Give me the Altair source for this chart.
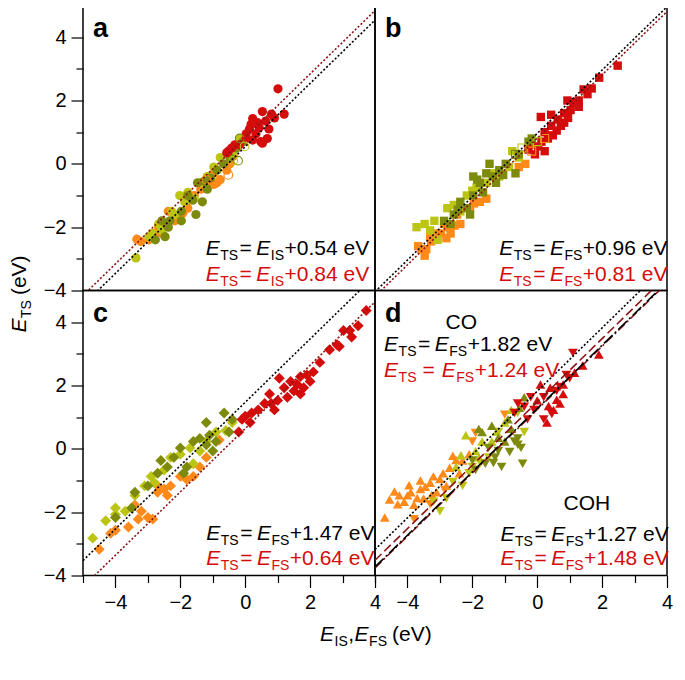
import altair as alt
import pandas as pd

FONT = "Liberation Sans"
TICK_FS = 20
BIG = 21
SUB = 14

COL = {"red": "#d40c0c", "orange": "#ff8a1a", "yellow": "#bcc414", "olive": "#7e8a0c"}
LINE_RED = "#8c1414"

X_TICKS = [-5, -4.5, -4, -3.5, -3, -2.5, -2, -1.5, -1, -0.5, 0, 0.5, 1, 1.5, 2, 2.5, 3, 3.5, 4]
Y_TICKS = [-4, -3.5, -3, -2.5, -2, -1.5, -1, -0.5, 0, 0.5, 1, 1.5, 2, 2.5, 3, 3.5, 4, 4.5]
X_RANGE = [-5, 4]

# ---------------- panel a (circles, E_TS vs E_IS) ----------------
a_red = [(1.01, 2.37), (1.2, 1.57), (0.53, 1.65), (0.81, 1.57), (0.23, 1.43), (0.18, 1.25), (0.43, 1.15),
         (0.33, 0.95), (0.03, 0.95), (0.73, 1.1), (0.68, 0.8), (0.48, 0.7), (0.23, 0.75), (0.03, 0.8),
         (-0.17, 0.6), (-0.32, 0.6), (-0.42, 0.5), (-0.52, 0.4), (-0.57, 0.35), (0.53, 0.65), (0.63, 1.35),
         (0.38, 1.3), (0.9, 1.45), (0.13, 1.1)]
a_orange = [(-3.34, -2.38), (-3.22, -2.45), (-2.97, -2.4), (-2.67, -2.0), (-2.57, -2.2), (-2.47, -1.9),
            (-2.17, -1.8), (-2.02, -1.6), (-1.77, -1.4), (-1.57, -1.0), (-1.37, -0.8), (-1.17, -0.7),
            (-0.97, -0.65), (-0.87, -0.6), (-0.77, -0.5), (-0.97, -0.3), (-0.57, -0.2), (-0.47, 0.0),
            (-0.37, 0.25), (-2.37, -1.5), (-2.82, -2.2), (-1.92, -1.55)]
a_yellow = [(-3.37, -2.97), (-2.87, -2.2), (-2.67, -1.9), (-2.27, -1.5), (-2.02, -1.0), (-1.87, -1.2),
            (-1.57, -1.1), (-1.17, -0.4), (-0.77, 0.2), (-0.37, 0.4), (-0.17, 0.8), (-2.57, -2.1),
            (-1.37, -0.6), (-0.97, -0.1), (-0.57, 0.3), (-2.17, -1.6), (-2.97, -2.3), (-1.77, -0.9)]
a_olive = [(-2.77, -2.4), (-2.32, -1.8), (-1.97, -1.5), (-1.52, -1.6), (-1.47, -0.6), (-1.32, -1.2),
           (-1.07, -0.45), (-0.87, -0.2), (-0.67, 0.0), (-0.47, 0.2), (-0.27, 0.5), (-0.07, 0.7),
           (-1.77, -1.0), (-2.37, -2.0), (-2.57, -1.8), (-1.17, -0.8), (-1.62, -1.15), (-1.97, -1.8),
           (-1.27, -0.55), (-2.47, -2.3)]
a_open = [(-0.52, -0.35, "orange"), (-0.22, 0.1, "olive"), (-0.37, 0.1, "yellow"), (-0.17, 0.8, "olive"),
          (-0.02, 0.55, "yellow"), (-1.2, -0.5, "orange")]
a_fit = [0.54, 0.84]

# ---------------- panel b (squares, E_TS vs E_FS) ----------------
b_red = [(2.48, 3.1), (1.91, 2.72), (1.68, 2.38), (1.43, 2.35), (1.28, 2.0), (0.93, 2.0), (1.03, 1.7),
         (1.28, 1.8), (0.83, 1.6), (0.63, 1.4), (0.73, 1.2), (0.43, 1.2), (0.11, 1.48), (0.23, 1.0),
         (0.48, 0.9), (0.13, 0.7), (0.23, 0.4), (-0.07, 0.3), (-0.27, 0.45), (0.03, 0.55), (0.43, 1.55),
         (0.83, 1.3), (1.13, 1.95), (0.33, 0.8), (0.6, 1.05), (1.55, 2.2), (0.95, 1.45)]
b_orange = [(-3.47, -2.9), (-3.42, -2.7), (-3.27, -2.45), (-2.97, -2.2), (-2.72, -2.0), (-2.67, -2.2),
            (-2.87, -1.9), (-2.37, -1.9), (-2.47, -1.6), (-2.07, -1.4), (-1.77, -1.2), (-1.57, -1.1),
            (-3.17, -2.2), (-3.57, -2.7), (-3.67, -2.6), (-0.57, -0.1), (-0.37, 0.0), (-3.3, -2.3),
            (-2.8, -2.35), (-2.55, -1.95), (-1.95, -1.25)]
b_yellow = [(-3.72, -2.0), (-3.47, -1.9), (-3.17, -1.8), (-2.77, -1.4), (-2.57, -1.3), (-2.17, -1.0),
            (-1.87, -0.75), (-1.57, -0.6), (-1.17, -0.4), (-0.87, -0.1), (-0.57, 0.2), (-0.17, 0.6),
            (-3.07, -2.4), (-2.37, -1.5), (-0.77, 0.4), (-3.3, -2.1), (-2.0, -0.85), (-1.35, -0.3)]
b_olive = [(-2.87, -1.8), (-2.57, -1.6), (-2.37, -1.2), (-2.17, -1.4), (-1.97, -1.0), (-1.77, -0.6),
           (-1.57, -0.3), (-1.37, -0.4), (-1.17, -0.2), (-0.97, 0.0), (-0.67, -0.3), (-0.57, 0.3),
           (-0.27, 0.7), (-2.07, -1.6), (-1.67, -0.9), (-1.27, -0.6), (-1.97, -0.4), (-2.67, -1.9),
           (-1.47, 0.0), (-0.17, 0.8), (-1.85, -0.5), (-1.05, -0.35), (-2.45, -1.45)]
b_open = [(-0.17, 0.4, "orange"), (0.23, 0.8, "orange"), (-0.47, 0.5, "yellow"), (-0.67, 0.3, "olive"),
          (0.0, 0.7, "yellow")]
b_fit = [0.96, 0.81]

# ---------------- panel c (diamonds) ----------------
c_red = [(2.6, 3.13), (2.9, 3.23), (2.3, 2.73), (2.1, 2.43), (1.9, 2.33), (1.7, 2.28), (2.0, 2.13),
         (1.6, 2.03), (1.4, 2.13), (1.8, 1.93), (1.5, 1.83), (1.2, 1.93), (1.05, 2.23), (1.3, 1.63),
         (1.0, 1.53), (0.75, 1.73), (0.8, 1.43), (0.9, 1.23), (0.6, 1.43), (0.4, 1.23), (0.2, 1.13),
         (0.0, 1.03), (-0.1, 0.93), (0.15, 0.83), (-0.2, 0.53), (1.7, 1.73), (3.48, 3.89), (3.73, 4.37),
         (3.22, 3.74), (3.03, 3.74), (3.28, 3.53), (2.83, 3.29)]
c_orange = [(-4.5, -3.17), (-4.15, -2.67), (-4.0, -2.57), (-3.6, -2.47), (-3.3, -2.22), (-3.0, -2.17),
            (-2.85, -2.22), (-3.2, -1.97), (-3.4, -1.77), (-2.7, -1.37), (-2.5, -1.27), (-2.4, -1.47),
            (-2.3, -1.17), (-2.0, -0.87), (-1.8, -0.97), (-1.6, -0.87), (-1.4, -0.57), (-1.2, -0.27),
            (-0.8, 0.28), (-2.7, -1.17)]
c_yellow = [(-4.7, -2.82), (-4.3, -2.27), (-4.0, -2.07), (-3.7, -1.97), (-3.4, -1.47), (-3.1, -1.17),
            (-2.9, -0.87), (-2.5, -0.67), (-2.3, -0.27), (-2.0, -0.17), (-1.7, 0.03), (-1.4, -0.07),
            (-1.2, 0.23), (-0.9, 0.53), (-0.6, 0.58), (-0.4, 0.83), (-4.0, -1.87), (-2.8, -1.07),
            (-1.6, -0.47)]
c_olive = [(-4.0, -2.17), (-3.5, -1.87), (-3.4, -1.37), (-3.0, -1.17), (-2.6, -0.37), (-2.4, -0.57),
           (-2.2, -0.27), (-2.0, 0.03), (-1.8, -0.57), (-1.6, 0.23), (-1.4, 0.33), (-1.2, 0.13),
           (-1.0, -0.07), (-1.1, 0.43), (-0.9, 0.23), (-0.65, 1.13), (-0.4, 0.93), (-0.5, 0.53),
           (-1.2, 0.83), (-2.7, -0.77), (-1.9, -0.77)]
c_fit = [1.47, 0.64]

# ---------------- panel d (triangles: up = CO, down = COH) ----------------
d_red_up = [(1.9, 2.98), (1.4, 2.63), (0.8, 2.03), (0.4, 1.93), (0.7, 1.43), (0.0, 1.53), (0.5, 1.23),
            (0.8, 1.73), (0.1, 2.03), (0.3, 0.83), (0.6, 1.55), (0.35, 1.35), (1.15, 2.4)]
d_red_down = [(1.1, 3.03), (1.0, 2.23), (0.6, 1.83), (0.2, 1.63), (-0.2, 1.63), (-0.6, 1.43), (-0.7, 1.13),
              (0.2, 0.93), (-0.1, 1.23), (-0.4, 1.33), (0.9, 2.33), (-0.3, 0.93), (0.45, 1.1), (0.7, 1.95)]
d_orange_up = [(-4.7, -2.17), (-4.25, -1.47), (-4.1, -1.67), (-3.9, -1.37), (-3.8, -1.77), (-3.6, -1.27),
               (-3.5, -1.57), (-3.3, -1.07), (-3.1, -1.37), (-2.9, -0.77), (-2.8, -1.17), (-2.6, -0.22),
               (-2.3, -0.37), (-2.1, -0.17), (-3.2, -0.87), (-4.0, -1.47), (-2.4, -0.77), (-4.4, -1.35),
               (-4.3, -1.75), (-3.95, -1.15), (-3.7, -1.55), (-3.45, -1.2), (-3.25, -1.45), (-3.0, -0.95),
               (-2.7, -0.6), (-2.5, -0.35), (-4.55, -1.6), (-3.6, -1.0)]
d_orange_down = [(-3.8, -2.22), (-1.0, 1.08), (-2.0, 0.23), (-1.9, 0.5), (-3.3, -1.75), (-2.85, -1.3)]
d_yellow_up = [(-2.5, -0.57), (-2.2, 0.43), (-1.9, -0.07), (-1.7, 0.23), (-1.4, 0.23), (-1.0, 0.83),
               (-0.8, 1.23), (-1.8, -0.27), (-2.35, -0.2), (-1.25, 0.55)]
d_yellow_down = [(-3.2, -1.67), (-2.8, -1.57), (-2.3, -1.17), (-2.0, -0.57), (-1.5, -0.27), (-1.2, 0.53),
                 (-0.6, 1.13), (-0.4, 0.53), (-3.0, -1.97), (-2.1, -0.77), (-2.6, -1.05), (-1.75, -0.45)]
d_olive_up = [(-1.7, 0.53), (-1.0, 0.23), (-0.8, 0.63), (-0.4, 1.63), (-0.9, 0.93), (-1.4, 0.73), (-1.8, 0.63),
              (-1.2, 0.35), (-0.55, 1.3)]
d_olive_down = [(-1.5, 0.03), (-1.3, -0.27), (-1.1, -0.57), (-0.6, 0.33), (-0.5, 0.03), (-0.45, -0.47),
                (-0.6, 0.13), (-1.2, -0.07), (-1.6, -0.47), (-2.0, -0.37), (-1.9, -0.67), (-0.7, 0.23),
                (-1.35, -0.45), (-0.85, -0.1)]
d_fit = [1.82, 1.48, 1.24, 1.27]

W, H = 292, 285
XS = alt.Scale(domain=[-5, 4], nice=False, zero=False)
YS = alt.Scale(domain=[-4, 5], nice=False, zero=False)

CW = {"E": 667, "T": 611, "S": 667, "I": 278, "F": 611, "=": 584, "+": 584, ".": 278, " ": 278,
      "e": 556, "V": 667, "(": 333, ")": 333, ",": 278, "C": 722, "O": 778, "H": 722}


def tw(s, size):
    return sum(CW.get(ch, 556) for ch in s) * size / 1000.0


TS_COND = {"condition": {"test": "datum.value % 2 === 0", "value": 12}, "value": 7}
PANEL = {"x": False, "y": False}


def make_axis(values):
    return alt.Axis(values=values, format="d", labelExpr="datum.value % 2 === 0 ? datum.label : ''",
                    tickSize=TS_COND, tickColor="black", tickWidth=1.2, domain=False, grid=False,
                    labelFont=FONT, labelFontSize=TICK_FS, labelColor="black", labelPadding=5,
                    labelFlush=False, labelOverlap=False, title=None)


def enc():
    return dict(x=alt.X("x:Q", scale=XS, axis=make_axis(X_TICKS) if PANEL["x"] else None),
                y=alt.Y("y:Q", scale=YS, axis=make_axis(Y_TICKS) if PANEL["y"] else None))


def points(pts, colkey, shape, size):
    df = pd.DataFrame(pts, columns=["x", "y"])
    return alt.Chart(df).mark_point(shape=shape, size=size, filled=True, opacity=1,
                                    color=COL[colkey]).encode(**enc())


def open_points(pts, shape, size):
    df = pd.DataFrame(pts, columns=["x", "y", "c"])
    return alt.Chart(df).mark_point(shape=shape, size=size, filled=False, opacity=1, strokeWidth=1.1).encode(
        **enc(), color=alt.Color("c:N", scale=alt.Scale(domain=list(COL.keys()), range=list(COL.values())),
                                 legend=None))


def fit_line(b, color, dash):
    df = pd.DataFrame({"x": X_RANGE})
    return alt.Chart(df).transform_calculate(y="datum.x + %f" % b).mark_line(
        clip=True, color=color, strokeDash=dash, strokeWidth=1.6).encode(**enc())


def one(x, y):
    return alt.Chart(pd.DataFrame({"x": [x], "y": [y]}))


def equation(x, y, s1, s2, rest, color, pre=1.5, post=4.5):
    pieces = [("E", BIG, "italic", 0, 0.5), (s1, SUB, "normal", 5, pre), ("=", BIG, "normal", 0, post),
              ("E", BIG, "italic", 0, 0.5), (s2, SUB, "normal", 5, 0.5), (rest, BIG, "normal", 0, 0)]
    layers = []
    dx = 0.0
    for s, fs, st, dy, gap in pieces:
        layers.append(one(x, y).mark_text(text=s, font=FONT, fontSize=fs, fontStyle=st, color=color,
                                          align="left", baseline="alphabetic", dx=dx, dy=dy).encode(**enc()))
        dx += tw(s, fs) + gap
    return layers


def label(letter):
    return alt.Chart(pd.DataFrame({"t": [letter]})).mark_text(
        font=FONT, fontSize=27, fontWeight="bold", align="left", baseline="alphabetic", color="black"
    ).encode(x=alt.value(10), y=alt.value(31), text="t:N")


def plain_text(x, y, s):
    return one(x, y).mark_text(text=s, font=FONT, fontSize=BIG, align="center", baseline="alphabetic",
                               color="black").encode(**enc())


def composite_px(px, py, pieces, angle=0):
    layers = []
    dx = 0.0
    for s, fs, st, dy, gap in pieces:
        layers.append(alt.Chart(pd.DataFrame({"t": [s]})).mark_text(
            font=FONT, fontSize=fs, fontStyle=st, color="black", align="left", baseline="alphabetic",
            dx=dx, dy=dy, angle=angle).encode(x=alt.value(px), y=alt.value(py), text="t:N"))
        dx += tw(s, fs) + gap
    return layers


DOT = [2, 2]

# panel a
PANEL.update(x=False, y=True)
pa = alt.layer(
    points(a_orange, "orange", "circle", 85),
    points(a_yellow, "yellow", "circle", 85),
    points(a_olive, "olive", "circle", 85),
    points(a_red, "red", "circle", 85),
    open_points(a_open, "circle", 75),
    fit_line(a_fit[1], LINE_RED, DOT),
    fit_line(a_fit[0], "black", DOT),
    *equation(-1.22, -2.89, "TS", "IS", "+0.54 eV", "black"),
    *equation(-1.22, -3.70, "TS", "IS", "+0.84 eV", COL["red"]),
    label("a"),
).properties(width=W, height=H)

# panel b
PANEL.update(x=False, y=False)
pb = alt.layer(
    points(b_orange, "orange", "square", 70),
    points(b_yellow, "yellow", "square", 70),
    points(b_olive, "olive", "square", 70),
    points(b_red, "red", "square", 70),
    open_points(b_open, "square", 64),
    fit_line(b_fit[1], LINE_RED, DOT),
    fit_line(b_fit[0], "black", DOT),
    *equation(-1.17, -2.89, "TS", "FS", "+0.96 eV", "black"),
    *equation(-1.17, -3.70, "TS", "FS", "+0.81 eV", COL["red"]),
    label("b"),
).properties(width=W, height=H)

# panel c
PANEL.update(x=True, y=True)
ytitle = composite_px(-57, 42, [("E", BIG, "italic", 0, 0.5), ("TS", SUB, "normal", 5, 5),
                                ("(eV)", BIG, "normal", 0, 0)], angle=270)
xtitle = composite_px(237, H + 65, [("E", BIG, "italic", 0, 0.5), ("IS", SUB, "normal", 5, 0.5),
                                    (",", BIG, "normal", 0, 0.5), ("E", BIG, "italic", 0, 0.5),
                                    ("FS", SUB, "normal", 5, 5), ("(eV)", BIG, "normal", 0, 0)])
pc = alt.layer(
    points(c_orange, "orange", "diamond", 120),
    points(c_yellow, "yellow", "diamond", 120),
    points(c_olive, "olive", "diamond", 120),
    points(c_red, "red", "diamond", 120),
    fit_line(c_fit[1], LINE_RED, DOT),
    fit_line(c_fit[0], "black", DOT),
    *equation(-1.2, -2.89, "TS", "FS", "+1.47 eV", "black"),
    *equation(-1.2, -3.67, "TS", "FS", "+0.64 eV", COL["red"]),
    label("c"),
    *ytitle,
    *xtitle,
).properties(width=W, height=H)

# panel d
PANEL.update(x=True, y=False)
pd_ = alt.layer(
    points(d_orange_up, "orange", "triangle-up", 95),
    points(d_orange_down, "orange", "triangle-down", 95),
    points(d_yellow_up, "yellow", "triangle-up", 95),
    points(d_yellow_down, "yellow", "triangle-down", 95),
    points(d_olive_up, "olive", "triangle-up", 95),
    points(d_olive_down, "olive", "triangle-down", 95),
    points(d_red_up, "red", "triangle-up", 95),
    points(d_red_down, "red", "triangle-down", 95),
    fit_line(d_fit[0], "black", DOT),
    fit_line(d_fit[1], LINE_RED, [9, 4]),
    fit_line(d_fit[2], LINE_RED, [9, 3, 2, 3]),
    fit_line(d_fit[3], "black", [12, 3, 2, 3]),
    plain_text(-2.34, 3.77, "CO"),
    *equation(-4.72, 3.08, "TS", "FS", "+1.82 eV", "black"),
    *equation(-4.72, 2.27, "TS", "FS", "+1.24 eV", COL["red"], pre=6, post=7),
    plain_text(1.53, -1.93, "COH"),
    *equation(-1.13, -2.92, "TS", "FS", "+1.27 eV", "black"),
    *equation(-1.13, -3.67, "TS", "FS", "+1.48 eV", COL["red"]),
    label("d"),
).properties(width=W, height=H)

chart = alt.concat(pa, pb, pc, pd_, columns=2, spacing=0, bounds="flush").properties(
    padding={"left": 0, "top": -3.5, "right": 0, "bottom": 0}
).configure_view(stroke="black", strokeWidth=1.5)

chart.save("out.html", embed_options={"renderer": "svg", "actions": False})
